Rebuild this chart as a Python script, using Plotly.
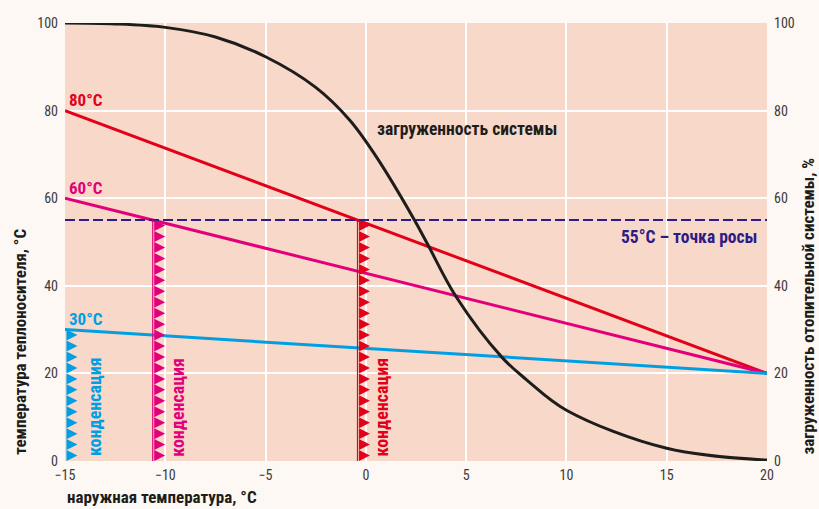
import plotly.graph_objects as go

# ---------------- data ----------------
x_range = [-15, 20]
supply_80 = [80, 20]   # at x = -15 and x = 20
supply_60 = [60, 20]
supply_30 = [30, 20]
dew_point = 55

load_x = [-15, -12.5, -10, -7.5, -5, -2.5, -0.8, 0.5, 2.4, 3.1, 4.5, 6.8, 8, 10, 15, 20]
load_y = [100, 99.8, 99.0, 96.8, 92.3, 85.3, 77.8, 69.6, 55.2, 49.3, 37.5, 23.6, 18.6, 11.6, 2.9, 0.2]

x_ticks = [-15, -10, -5, 0, 5, 10, 15, 20]
x_tick_labels = ["\u221215", "\u221210", "\u22125", "0", "5", "10", "15", "20"]
y_ticks = [0, 20, 40, 60, 80, 100]

RED = "#E3001B"
MAGENTA = "#E2007A"
BLUE = "#009FE3"
NAVY = "#2D1B86"
BLACK = "#1D1D1B"
PLOT_BG = "#F8D8C8"
PAPER_BG = "#FDF8F3"

FONT = "Liberation Sans Narrow, Roboto Condensed, DejaVu Sans Condensed, Arial Narrow, Roboto, sans-serif"


def cross_x(line, level):
    y0, y1 = line
    return x_range[0] + (level - y0) * (x_range[1] - x_range[0]) / (y1 - y0)


fig = go.Figure()

# supply temperature lines
for vals, col in [(supply_80, RED), (supply_60, MAGENTA), (supply_30, BLUE)]:
    fig.add_trace(go.Scatter(x=x_range, y=vals, mode="lines",
                             line=dict(color=col, width=3), hoverinfo="skip"))

# dew point line
fig.add_trace(go.Scatter(x=x_range, y=[dew_point, dew_point], mode="lines",
                         line=dict(color=NAVY, width=2, dash="10px,4px"), hoverinfo="skip"))

# load curve (right axis)
fig.add_trace(go.Scatter(x=load_x, y=load_y, mode="lines", yaxis="y2",
                         line=dict(color=BLACK, width=3, shape="spline", smoothing=1.0),
                         hoverinfo="skip"))

# condensation zones: (x of zone, top level, colour, draw vertical line, label offset)
step = 2.5
cond_zones = [
    (cross_x(supply_80, dew_point), dew_point, RED, True, 1.2),
    (cross_x(supply_60, dew_point), dew_point, MAGENTA, True, 1.25),
    (x_range[0], supply_30[0], BLUE, False, 1.5),
]
for xc, top, col, draw_line, _ in cond_zones:
    if draw_line:
        fig.add_trace(go.Scatter(x=[xc, xc], y=[0, top], mode="lines",
                                 line=dict(color=col, width=1.2), hoverinfo="skip"))
    ys = []
    v = step / 2
    while v < top:
        ys.append(v)
        v += step
    fig.add_trace(go.Scatter(x=[xc + 0.62] * len(ys), y=ys, mode="markers",
                             marker=dict(symbol="arrow-right", size=11, color=col,
                                         line=dict(width=0)),
                             hoverinfo="skip"))

annotations = []
# condensation labels
for xc, top, col, _, off in cond_zones:
    annotations.append(dict(x=xc + off, y=0.6, xref="x", yref="y", text="<b>конденсация</b>",
                            textangle=-90, showarrow=False, xanchor="center", yanchor="bottom",
                            font=dict(family=FONT, size=18, color=col)))

# line labels
for txt, yv, col in [("80°C", supply_80[0], RED), ("60°C", supply_60[0], MAGENTA), ("30°C", supply_30[0], BLUE)]:
    annotations.append(dict(x=-14.9, y=yv + 2.4, xref="x", yref="y", text=f"<b>{txt}</b>",
                            showarrow=False, xanchor="left", yanchor="middle",
                            font=dict(family=FONT, size=17, color=col)))

annotations.append(dict(x=5.05, y=75.8, xref="x", yref="y", text="<b>загруженность системы</b>",
                        showarrow=False, xanchor="center", yanchor="middle",
                        font=dict(family=FONT, size=17.5, color=BLACK)))
annotations.append(dict(x=16.1, y=51.1, xref="x", yref="y", text="<b>55°C – точка росы</b>",
                        showarrow=False, xanchor="center", yanchor="middle",
                        font=dict(family=FONT, size=17.5, color=NAVY)))

# axis titles
annotations.append(dict(x=0, y=-0.083, xref="paper", yref="paper", text="<b>наружная температура, °С</b>",
                        showarrow=False, xanchor="left", yanchor="middle",
                        font=dict(family=FONT, size=17, color=BLACK)))
annotations.append(dict(x=-0.064, y=0.01, xref="paper", yref="paper", text="<b>температура теплоносителя, °С</b>",
                        textangle=-90, showarrow=False, xanchor="center", yanchor="bottom",
                        font=dict(family=FONT, size=17, color=BLACK)))
annotations.append(dict(x=1.059, y=0.01, xref="paper", yref="paper", text="<b>загруженность отопительной системы, %</b>",
                        textangle=-90, showarrow=False, xanchor="center", yanchor="bottom",
                        font=dict(family=FONT, size=17, color=BLACK)))

tickfont = dict(family=FONT, size=14, color="#3a3a3a")
fig.update_layout(
    width=819, height=509,
    margin=dict(l=65, r=52, t=23, b=48),
    paper_bgcolor=PAPER_BG, plot_bgcolor=PLOT_BG,
    showlegend=False,
    xaxis=dict(range=x_range, tickvals=x_ticks, ticktext=x_tick_labels, showgrid=True,
               gridcolor="white", gridwidth=1.5, zeroline=False, showline=False,
               tickfont=tickfont, ticks="", ticklabelstandoff=4),
    yaxis=dict(range=[0, 100], tickvals=y_ticks, showgrid=True, gridcolor="white",
               gridwidth=1.5, zeroline=False, showline=False, tickfont=tickfont, ticks="",
               ticklabelstandoff=6),
    yaxis2=dict(range=[0, 100], tickvals=y_ticks, overlaying="y", side="right",
                showgrid=False, zeroline=False, showline=False, tickfont=tickfont, ticks="",
                ticklabelstandoff=6),
    annotations=annotations,
)

fig.write_html(
    "out.html",
    config={"displayModeBar": False},
    post_script="document.body.style.margin='0';document.body.style.background='%s';" % PAPER_BG,
)
